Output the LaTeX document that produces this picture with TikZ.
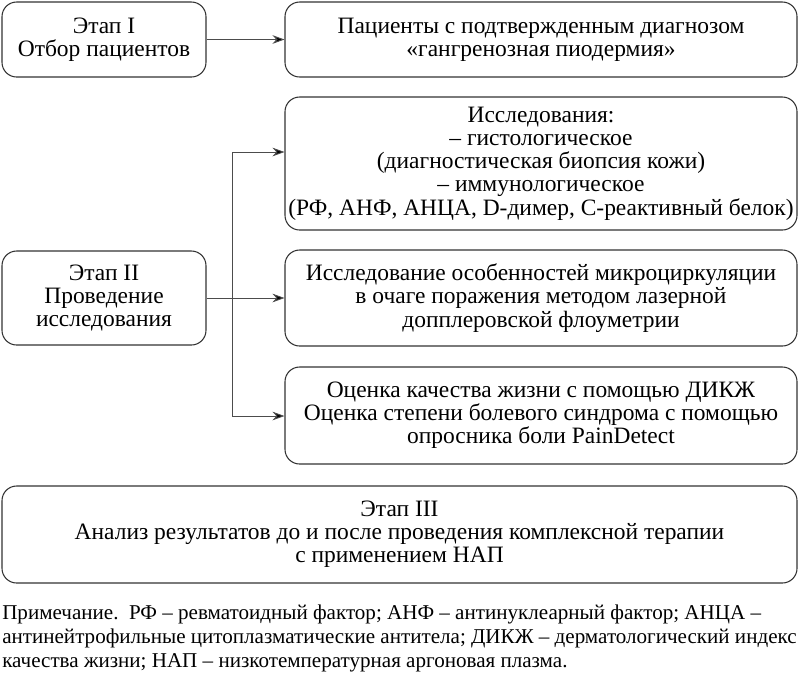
\documentclass[tikz,border=0pt]{standalone}
\usepackage{fontspec}
\setmainfont{Liberation Serif}
\usetikzlibrary{arrows.meta}
\begin{document}
\begin{tikzpicture}[x=0.75pt,y=-0.75pt,
  box/.style={draw=black!80, line width=0.8pt, rounded corners=11pt, align=center,
    inner sep=0pt, font=\fontsize{17.6}{17.4}\selectfont},
  conn/.style={draw=black!70, line width=0.7pt, -{Stealth[length=9pt,width=6.5pt,fill=black]}},
  line/.style={draw=black!70, line width=0.7pt}]
\useasboundingbox (0,0) rectangle (800,676);
\node[box, minimum width=204*0.75pt, minimum height=75*0.75pt] (s1) at (104,39.5) {Этап I\\Отбор пациентов};
\node[box, minimum width=512*0.75pt, minimum height=75*0.75pt] (p) at (541,39.5) {Пациенты с подтвержденным диагнозом\\«гангренозная пиодермия»};
\node[box, minimum width=512*0.75pt, minimum height=133*0.75pt] (r1) at (541,163.5) {Исследования:\\– гистологическое\\(диагностическая биопсия кожи)\\– иммунологическое\\(РФ, АНФ, АНЦА, D-димер, С-реактивный белок)};
\node[box, minimum width=204*0.75pt, minimum height=94*0.75pt] (s2) at (104,298) {Этап II\\Проведение\\исследования};
\node[box, minimum width=512*0.75pt, minimum height=96*0.75pt] (r2) at (541,298) {Исследование особенностей микроциркуляции\\в очаге поражения методом лазерной\\допплеровской флоуметрии};
\node[box, minimum width=512*0.75pt, minimum height=97*0.75pt] (r3) at (541,415.5) {Оценка качества жизни с помощью ДИКЖ\\Оценка степени болевого синдрома с помощью\\опросника боли PainDetect};
\node[box, minimum width=795*0.75pt, minimum height=97*0.75pt] (s3) at (399.5,534.5) {Этап III\\Анализ результатов до и после проведения комплексной терапии\\с применением НАП};
\node[anchor=north west, align=left, inner sep=0pt, font=\fontsize{15.8}{18}\selectfont] (note) at (2,605) {Примечание.\ \ РФ – ревматоидный фактор; АНФ – антинуклеарный фактор; АНЦА –\\антинейтрофильные цитоплазматические антитела; ДИКЖ – дерматологический индекс\\качества жизни; НАП – низкотемпературная аргоновая плазма.};
\coordinate (jt) at (232,152);
\coordinate (jb) at (232,416);
\draw[conn] (s1.east) -- (p.west);
\draw[conn] (s2.east) -- (s2.east -| r2.west);
\draw[line] (jt) -- (jb);
\draw[conn] (jt) -- (jt -| r1.west);
\draw[conn] (jb) -- (jb -| r3.west);
\end{tikzpicture}
\end{document}
